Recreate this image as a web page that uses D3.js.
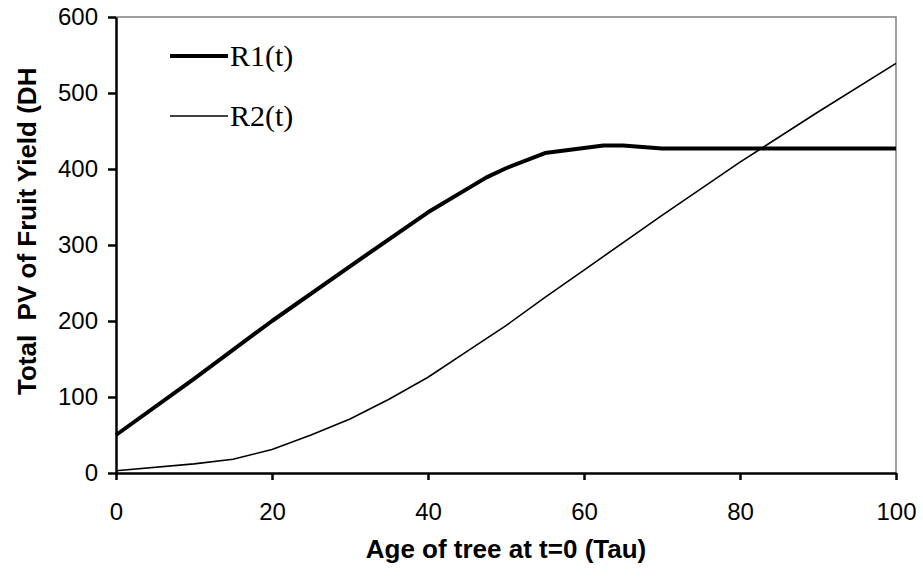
<!DOCTYPE html>
<html>
<head>
<meta charset="utf-8">
<script src="https://cdn.jsdelivr.net/npm/d3@7"></script>
<style>
  body { margin: 0; background: #fff; }
  svg { display: block; }
</style>
</head>
<body>
<div id="chart"></div>
<script>
// values
const tau1 = [0, 10, 20, 30, 40, 47.5, 50, 55, 62.5, 65, 70, 80, 90, 100];
const r1 = [50, 124, 200, 272, 343, 389, 401, 421, 431, 431, 427, 427, 427, 427];
const tau2 = [0, 10, 15, 20, 25, 30, 35, 40, 45, 50, 55, 60, 70, 80, 90, 100];
const r2 = [3, 12, 18, 31, 50, 71, 97, 126, 160, 194, 231, 267, 339, 409, 475, 539];
const xTicks = [0, 20, 40, 60, 80, 100];
const yTicks = [0, 100, 200, 300, 400, 500, 600];
const seriesNames = ['R1(t)', 'R2(t)'];

const W = 923, H = 580;
const margin = {top: 17, right: 27, bottom: 107, left: 116};
const w = W - margin.left - margin.right;
const h = H - margin.top - margin.bottom;

const svg = d3.select('#chart').append('svg')
    .attr('width', W)
    .attr('height', H);

const g = svg.append('g')
    .attr('transform', `translate(${margin.left},${margin.top})`);

const x = d3.scaleLinear().domain([0, 100]).range([0, w]);
const y = d3.scaleLinear().domain([0, 600]).range([h, 0]);

// grey frame on top and right
g.append('path')
    .attr('fill', 'none')
    .attr('stroke', '#808080')
    .attr('stroke-width', 1.5)
    .attr('d', `M0,0H${w}V${h}`);

const xAxis = g.append('g')
    .attr('transform', `translate(0,${h})`)
    .call(d3.axisBottom(x).tickValues(xTicks).tickSize(7).tickSizeOuter(0).tickPadding(23));

const yAxis = g.append('g')
    .call(d3.axisLeft(y).tickValues(yTicks).tickSize(8).tickSizeOuter(0).tickPadding(10));

[xAxis, yAxis].forEach(a => {
  a.select('.domain').attr('stroke', '#000').attr('stroke-width', 2.5);
  a.selectAll('.tick line').attr('stroke', '#000').attr('stroke-width', 2.5);
  a.selectAll('.tick text')
      .attr('fill', '#000')
      .style('font-family', 'Liberation Sans, Arial, sans-serif')
      .style('font-size', '24px');
});

const line = d3.line()
    .x(d => x(d[0]))
    .y(d => y(d[1]));

g.append('path')
    .attr('fill', 'none')
    .attr('stroke', '#000')
    .attr('stroke-width', 1.6)
    .attr('stroke-linejoin', 'round')
    .attr('d', line(d3.zip(tau2, r2)));

g.append('path')
    .attr('fill', 'none')
    .attr('stroke', '#000')
    .attr('stroke-width', 4)
    .attr('stroke-linejoin', 'round')
    .attr('d', line(d3.zip(tau1, r1)));

// legend
const legend = svg.append('g');
const widths = [4, 1.6];
seriesNames.forEach((name, i) => {
  const ly = 56 + i * 60;
  legend.append('line')
      .attr('x1', 170).attr('x2', 228)
      .attr('y1', ly).attr('y2', ly)
      .attr('stroke', '#000')
      .attr('stroke-width', widths[i]);
  legend.append('text')
      .attr('x', 230)
      .attr('y', ly + 10)
      .style('font-family', 'Liberation Serif, Times New Roman, serif')
      .style('font-size', '30px')
      .text(name);
});

// axis titles
svg.append('text')
    .attr('x', margin.left + w / 2)
    .attr('y', 558)
    .attr('text-anchor', 'middle')
    .style('font-family', 'Liberation Sans, Arial, sans-serif')
    .style('font-weight', 'bold')
    .style('font-size', '26px')
    .text('Age of tree at t=0 (Tau)');

svg.append('text')
    .attr('transform', 'translate(36,395) rotate(-90)')
    .attr('text-anchor', 'start')
    .style('font-family', 'Liberation Sans, Arial, sans-serif')
    .style('font-weight', 'bold')
    .style('font-size', '26px')
    .style('white-space', 'pre')
    .text('Total  PV of Fruit Yield (DH');
</script>
</body>
</html>
